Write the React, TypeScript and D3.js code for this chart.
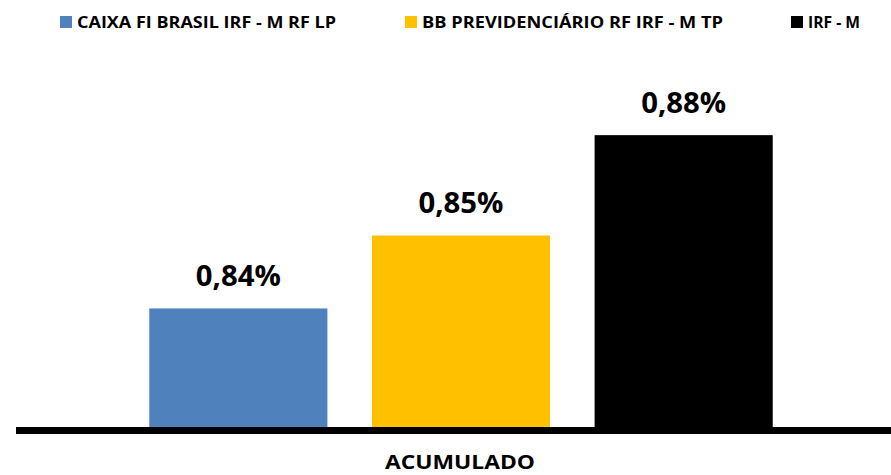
import { useEffect, useRef } from "react";
import * as d3 from "d3";

// Series (one category: ACUMULADO)
const categories = ["ACUMULADO"];
const seriesNames = [
  "CAIXA FI BRASIL IRF - M RF LP",
  "BB PREVIDENCIÁRIO RF IRF - M TP",
  "IRF - M",
];
const seriesValues = [0.838, 0.854, 0.876];
const seriesColors = ["#4F81BD", "#FFC000", "#000000"];

const App = () => {
  const ref = useRef<SVGSVGElement>(null);

  useEffect(() => {
    document.body.style.margin = "0";
    const width = 891;
    const height = 475;
    const baseline = 427;
    const font = "'Open Sans', 'DejaVu Sans', sans-serif";

    const svg = d3.select(ref.current);
    svg.selectAll("*").remove();

    // X scale over the three series inside the single category
    const x = d3
      .scaleBand()
      .domain(seriesNames)
      .range([127, 795])
      .paddingInner(0.2)
      .paddingOuter(0.1);

    // Y scale (value axis hidden, Excel-like auto minimum)
    const y = d3.scaleLinear().domain([0.812, 0.9]).range([baseline, 25.7]);

    const data = seriesNames.map((name, i) => ({
      name,
      value: seriesValues[i],
      color: seriesColors[i],
    }));

    // Bars
    svg
      .selectAll(".bar")
      .data(data)
      .enter()
      .append("rect")
      .attr("class", "bar")
      .attr("x", (d) => x(d.name)!)
      .attr("y", (d) => y(d.value))
      .attr("width", x.bandwidth())
      .attr("height", (d) => baseline - y(d.value))
      .attr("fill", (d) => d.color);

    // Value labels
    svg
      .selectAll(".label")
      .data(data)
      .enter()
      .append("text")
      .attr("class", "label")
      .attr("x", (d) => x(d.name)! + x.bandwidth() / 2)
      .attr("y", (d) => y(d.value) - 22)
      .attr("text-anchor", "middle")
      .attr("font-family", font)
      .attr("font-weight", "bold")
      .attr("font-size", 28.5)
      .attr("textLength", 85)
      .attr("lengthAdjust", "spacingAndGlyphs")
      .attr("fill", "#000")
      .text((d) => d3.format(".2f")(d.value).replace(".", ",") + "%");

    // Category axis line
    svg
      .append("line")
      .attr("x1", 16)
      .attr("x2", width)
      .attr("y1", baseline + 3.5)
      .attr("y2", baseline + 3.5)
      .attr("stroke", "#000")
      .attr("stroke-width", 7);

    // Category label
    svg
      .append("text")
      .attr("x", 460)
      .attr("y", 469)
      .attr("text-anchor", "middle")
      .attr("font-family", font)
      .attr("font-weight", "bold")
      .attr("font-size", 20)
      .attr("textLength", 150)
      .attr("lengthAdjust", "spacingAndGlyphs")
      .text(categories[0]);

    // Legend
    const legendX = [60, 405, 791];
    const legendW = [259, 301, 52];
    const legend = svg
      .selectAll(".legend")
      .data(data)
      .enter()
      .append("g")
      .attr("class", "legend")
      .attr("transform", (_, i) => `translate(${legendX[i]},16)`);
    legend
      .append("rect")
      .attr("width", 12)
      .attr("height", 12)
      .attr("fill", (d) => d.color);
    legend
      .append("text")
      .attr("x", 17)
      .attr("y", 11.5)
      .attr("font-family", font)
      .attr("font-weight", "bold")
      .attr("font-size", 15.5)
      .attr("textLength", (_, i) => legendW[i])
      .attr("lengthAdjust", "spacingAndGlyphs")
      .attr("fill", "#000")
      .text((d) => d.name);

    svg.attr("width", width).attr("height", height);
  }, []);

  return <svg ref={ref} style={{ display: "block", background: "#fff" }} />;
};

export default App;
